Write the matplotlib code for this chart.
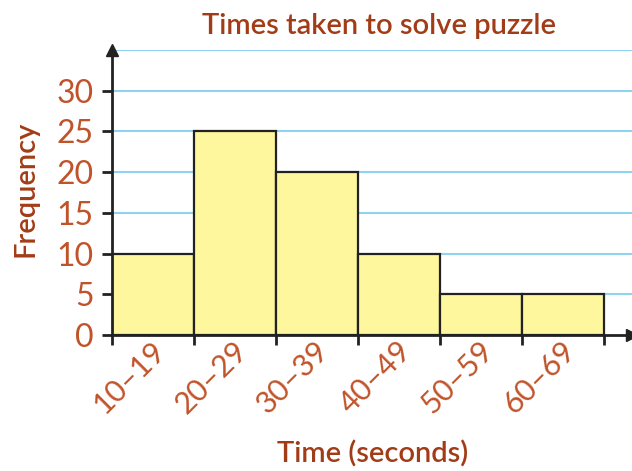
import matplotlib.pyplot as plt

BROWN = "#c0532a"
TITLE = "#a23c17"
GRID = "#8fd3f0"
BAR = "#fff79e"

bin_labels = ["10–19", "20–29", "30–39", "40–49", "50–59", "60–69"]
bin_edges = [10, 20, 30, 40, 50, 60, 70]
frequency = [10, 25, 20, 10, 5, 5]
y_ticks = [0, 5, 10, 15, 20, 25, 30]

plt.rcParams["font.family"] = ["Lato", "DejaVu Sans"]

fig = plt.figure(figsize=(6.32, 4.71), dpi=100)
ax = fig.add_axes([112 / 632, 1 - 335 / 471, 520 / 632, 285 / 471])

# horizontal guide lines behind the bars
for g in range(5, 40, 5):
    ax.axhline(g, color=GRID, lw=1.5, zorder=0)

ax.bar(bin_edges[:-1], frequency, width=10, align="edge",
       color=BAR, edgecolor="#222222", linewidth=1.6, zorder=2)

ax.set_xlim(10, 10 + 520 / 8.2)
ax.set_ylim(0, 35)

for s in ["top", "right"]:
    ax.spines[s].set_visible(False)
for s in ["left", "bottom"]:
    ax.spines[s].set_linewidth(2)
    ax.spines[s].set_color("#222222")
    ax.spines[s].set_zorder(3)

# arrow heads
ax.plot([10], [35], marker="^", color="#222222", ms=9, clip_on=False, zorder=4)
ax.plot([1], [0], marker=">", color="#222222", ms=9, clip_on=False,
        transform=ax.transAxes, zorder=4)

ax.set_yticks(y_ticks)
ax.set_yticklabels([str(v) for v in y_ticks])
ax.tick_params(axis="y", length=7, width=2, color="#222222", pad=6,
               labelsize=23, labelcolor=BROWN)

centers = [(a + b) / 2 + 0.9 for a, b in zip(bin_edges[:-1], bin_edges[1:])]
ax.set_xticks(centers)
ax.set_xticklabels(bin_labels, rotation=45, ha="right", va="center",
                   rotation_mode="anchor")
ax.tick_params(axis="x", length=0, pad=8, labelsize=22, labelcolor=BROWN)
ax.set_xticks(bin_edges, minor=True)
ax.tick_params(axis="x", which="minor", length=7, width=2, color="#222222")

fig.text(0.6, 0.945, "Times taken to solve puzzle", ha="center", va="center",
         fontsize=21, color=TITLE, fontweight="semibold")
fig.text(0.04, 0.6, "Frequency", ha="center", va="center", rotation=90,
         fontsize=21, color=TITLE, fontweight="semibold")
fig.text(0.59, 0.035, "Time (seconds)", ha="center", va="center",
         fontsize=21, color=TITLE, fontweight="semibold")

fig.savefig("out.png", dpi=100)
